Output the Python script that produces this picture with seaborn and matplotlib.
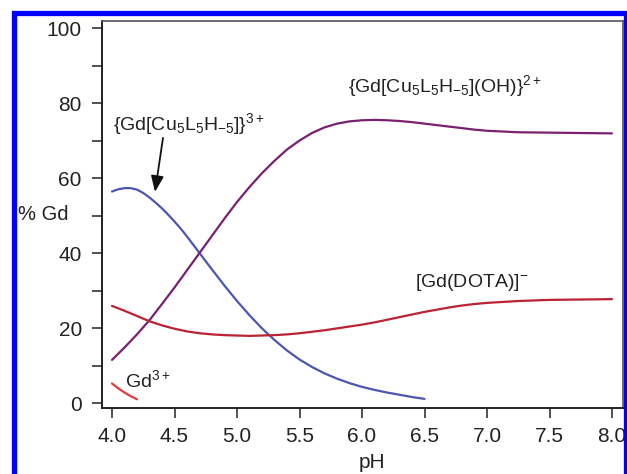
import matplotlib
matplotlib.use("Agg")
import matplotlib.pyplot as plt
from matplotlib.patches import Rectangle
from matplotlib.ticker import MultipleLocator, FormatStrFormatter
import pandas as pd
import seaborn as sns

# Species distribution of Gd(III) as a function of pH
ph_main = [4.0, 4.1, 4.2, 4.3, 4.4, 4.5, 4.6, 4.7, 4.8, 4.9, 5.0, 5.1, 5.2, 5.3,
           5.4, 5.5, 5.6, 5.7, 5.8, 5.9, 6.0, 6.1, 6.2, 6.3, 6.4, 6.5, 6.6, 6.7,
           6.8, 6.9, 7.0, 7.25, 7.5, 7.75, 8.0]

gd_cu_oh = [11.5, 14.8, 18.3, 22.1, 26.4, 30.8, 35.4, 40.0, 44.6, 49.2, 53.6,
            57.6, 61.3, 64.6, 67.6, 70.0, 72.0, 73.5, 74.5, 75.1, 75.4, 75.5,
            75.4, 75.2, 74.9, 74.5, 74.1, 73.7, 73.3, 72.9, 72.6, 72.2, 72.1,
            72.0, 71.9]

gd_dota = [25.9, 24.6, 23.2, 21.8, 20.7, 19.8, 19.1, 18.6, 18.3, 18.1, 18.0,
           17.9, 18.0, 18.1, 18.3, 18.6, 19.0, 19.4, 19.9, 20.4, 20.9, 21.5,
           22.2, 22.9, 23.6, 24.3, 24.9, 25.5, 26.0, 26.4, 26.7, 27.2, 27.5,
           27.6, 27.7]

ph_cu = [4.0, 4.05, 4.1, 4.15, 4.2, 4.25, 4.3, 4.35, 4.4, 4.45, 4.5, 4.55, 4.6,
         4.7, 4.8, 4.9, 5.0, 5.1, 5.2, 5.3, 5.4, 5.5, 5.6, 5.7, 5.8, 5.9, 6.0,
         6.1, 6.2, 6.3, 6.4, 6.5]
gd_cu = [56.4, 57.0, 57.3, 57.3, 56.9, 56.0, 54.8, 53.4, 51.9, 50.2, 48.4, 46.5,
         44.4, 40.0, 35.6, 31.3, 27.2, 23.4, 19.9, 16.8, 14.0, 11.6, 9.6, 7.9,
         6.5, 5.3, 4.3, 3.5, 2.8, 2.2, 1.6, 1.1]

ph_free = [4.0, 4.05, 4.1, 4.15, 4.2]
gd_free = [5.2, 3.9, 2.8, 1.8, 1.0]

species = ["cu", "cu_oh", "dota", "free"]
colors = {"cu": "#4b56b2", "cu_oh": "#7a2070", "dota": "#bb2233", "free": "#e8393c"}

df = pd.concat([
    pd.DataFrame({"pH": ph_cu, "pct": gd_cu, "species": "cu"}),
    pd.DataFrame({"pH": ph_main, "pct": gd_cu_oh, "species": "cu_oh"}),
    pd.DataFrame({"pH": ph_main, "pct": gd_dota, "species": "dota"}),
    pd.DataFrame({"pH": ph_free, "pct": gd_free, "species": "free"}),
], ignore_index=True)

sns.set_theme(style="ticks")
plt.rcParams["font.family"] = ["Liberation Sans", "DejaVu Sans"]
plt.rcParams["mathtext.fontset"] = "custom"
plt.rcParams["mathtext.rm"] = "Liberation Sans"
plt.rcParams["mathtext.it"] = "Liberation Sans"
plt.rcParams["mathtext.default"] = "rm"

fig = plt.figure(figsize=(6.27, 4.74), dpi=100, facecolor="white")
ax = fig.add_axes([102 / 627, 1 - 408 / 474, 521 / 627, 387 / 474])

sns.lineplot(data=df, x="pH", y="pct", hue="species", hue_order=species,
             palette=colors, units="species", estimator=None, sort=True,
             linewidth=1.6, legend=False, ax=ax)

ax.set_xlim(3.92, 8.088)
ax.set_ylim(-1.33, 101.87)
ax.xaxis.set_major_locator(MultipleLocator(0.5))
ax.yaxis.set_major_locator(MultipleLocator(20))
ax.yaxis.set_minor_locator(MultipleLocator(10))
ax.xaxis.set_major_formatter(FormatStrFormatter("%.1f"))

ax.tick_params(axis="both", which="both", direction="out", length=7.5,
               width=1.1, color="#222222", labelsize=15, labelcolor="#222222")
ax.tick_params(axis="y", which="both", pad=7)
ax.tick_params(axis="x", which="both", pad=6)
for side in ["left", "bottom"]:
    ax.spines[side].set_color("#222222")
    ax.spines[side].set_linewidth(1.4)
for side in ["top", "right"]:
    ax.spines[side].set_color("#555555")
    ax.spines[side].set_linewidth(1.2)

ax.set_xlabel("pH", fontsize=15, color="#222222", ha="center", va="baseline")
ax.xaxis.set_label_coords((372 - 102) / 521, (408 - 468) / 387)
ax.set_ylabel("% Gd", fontsize=14.5, color="#222222", rotation=0,
              ha="left", va="baseline")
ax.yaxis.set_label_coords((18 - 102) / 521, (408 - 220) / 387)

txt = dict(fontsize=14, color="#222222", va="baseline", ha="left")
ax.text(4.008, 72.8, r"{Gd[Cu$_5$L$_5$H$_{-5}$]}$^{3+}$", **txt)
ax.text(5.888, 83.0, r"{Gd[Cu$_5$L$_5$H$_{-5}$](OH)}$^{2+}$", **txt)
ax.text(6.424, 31.0, r"[Gd(DOTA)]$^{-}$", **txt)
ax.text(4.104, 4.2, r"Gd$^{3+}$", **txt)

ax.annotate("", xy=(4.344, 56.3), xytext=(4.408, 70.7),
            arrowprops=dict(arrowstyle="-|>,head_length=0.8,head_width=0.32",
                            color="#111111", lw=1.3, shrinkA=0, shrinkB=0))

# Blue frame around the figure
fig.add_artist(Rectangle((14 / 627, -0.05), (625.5 - 14) / 627,
                         1 - 12.5 / 474 + 0.05, transform=fig.transFigure,
                         fill=False, edgecolor="#0000ff", linewidth=3.8,
                         zorder=10))

fig.savefig("out.png", dpi=100, facecolor="white")
